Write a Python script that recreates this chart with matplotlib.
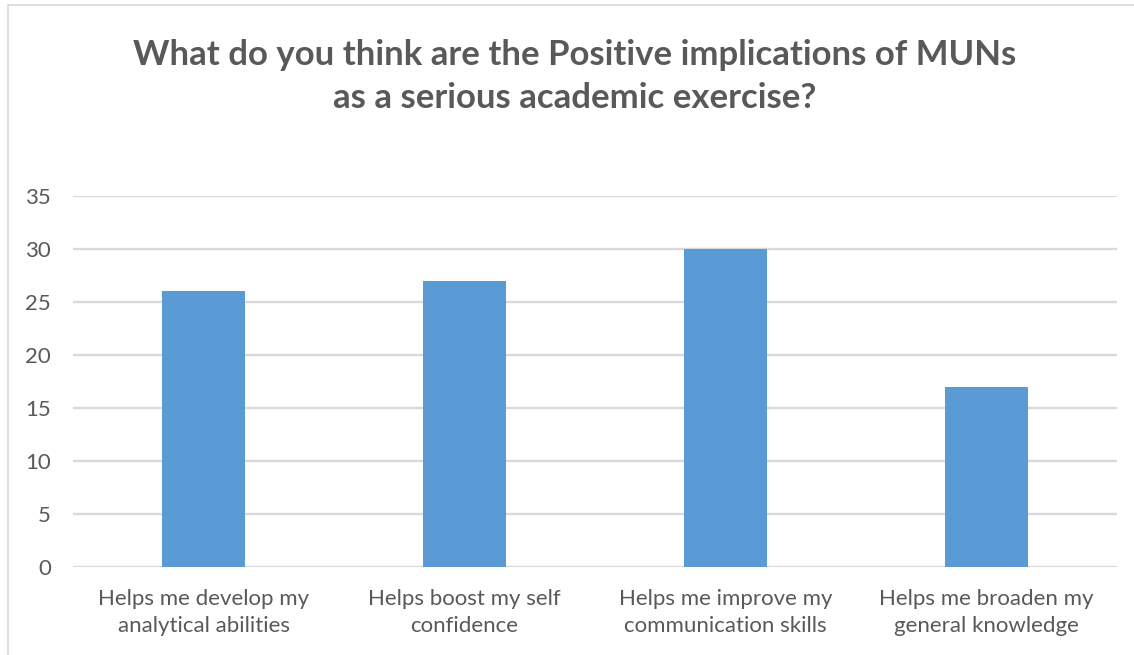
import matplotlib.pyplot as plt
from matplotlib.patches import Rectangle

# data
categories = [
    "Helps me develop my\nanalytical abilities",
    "Helps boost my self\nconfidence",
    "Helps me improve my\ncommunication skills",
    "Helps me broaden my\ngeneral knowledge",
]
values = [26, 27, 30, 17]
yticks = [0, 5, 10, 15, 20, 25, 30, 35]
title = "What do you think are the Positive implications of MUNs\nas a serious academic exercise?"

text_col = "#595959"
bar_col = "#5B9BD5"
grid_col = "#D9D9D9"

plt.rcParams['font.family'] = ['Lato', 'DejaVu Sans']

fig = plt.figure(figsize=(11.34, 6.55), dpi=100)
ax = fig.add_axes([0.0644, 0.1344, 0.9206, 0.5664])

x = list(range(len(categories)))
ax.bar(x, values, width=0.315, color=bar_col, zorder=3)

ax.set_xlim(-0.5, len(categories) - 0.5)
ax.set_ylim(0, 35)
ax.set_yticks(yticks)
ax.set_xticks(x)
ax.set_xticklabels(categories, fontsize=16, color=text_col, linespacing=1.45)
ax.tick_params(axis='y', labelsize=16, labelcolor=text_col, length=0, pad=16)
ax.tick_params(axis='x', length=0, pad=16)
ax.yaxis.grid(True, color=grid_col, linewidth=1.7, zorder=0)
for s in ax.spines.values():
    s.set_visible(False)

fig.text(0.507, 0.883, title, ha='center', va='center', fontsize=25,
         fontweight='bold', color=text_col, linespacing=1.4)

# chart frame
fig.patches.append(Rectangle((8 / 1134, -0.01), 1130 / 1134, 1 - 5 / 655 + 0.01,
                             transform=fig.transFigure, fill=False,
                             edgecolor="#D9D9D9", linewidth=1.2))

fig.savefig("out.png", dpi=100)
